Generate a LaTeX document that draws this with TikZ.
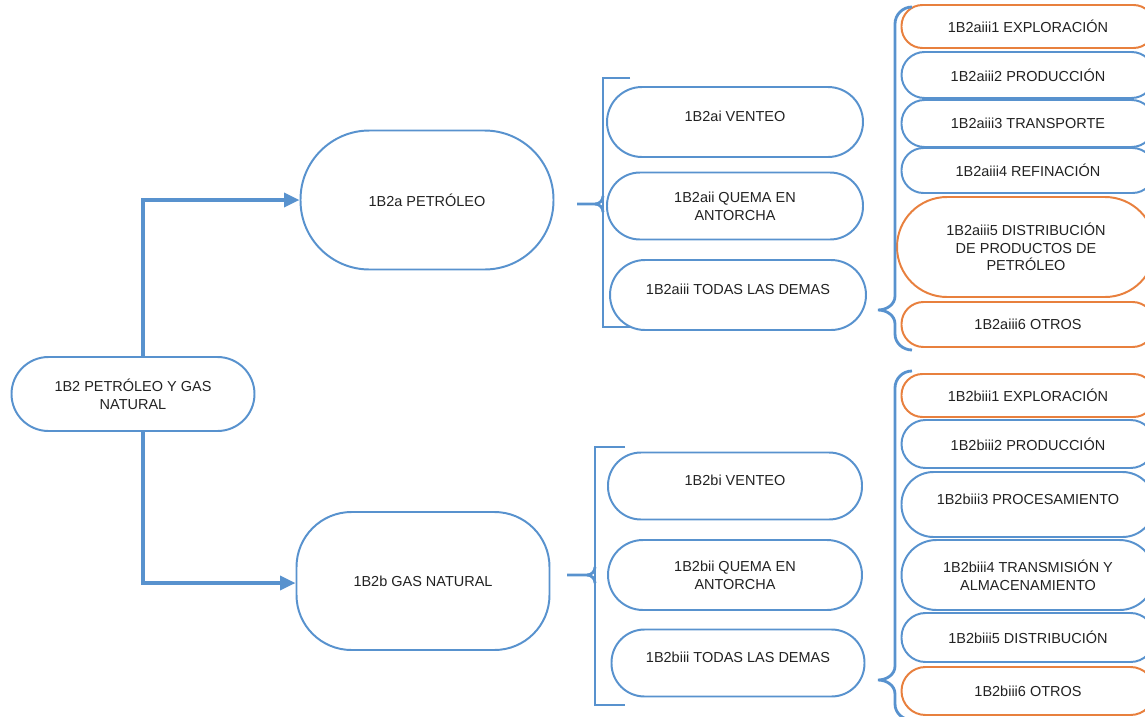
\documentclass[tikz,border=0pt]{standalone}
\usepackage{fontspec}
\setmainfont{Liberation Sans}
\usepackage{xcolor}
\usetikzlibrary{positioning}
\usetikzlibrary{arrows.meta}

\definecolor{azul}{RGB}{88,146,206}
\definecolor{naranja}{RGB}{232,128,62}
\definecolor{texto}{RGB}{34,34,34}
\newcommand{\unidad}{0.025cm}

\begin{document}
\begin{tikzpicture}[x=0.025cm, y=-0.025cm,
  caja/.style n args={3}{draw=azul, line width=1.4pt, fill=white, align=center,
    text=texto, font=\fontsize{10.3}{12.6}\selectfont, inner sep=0pt,
    minimum width=#1*\unidad, minimum height=#2*\unidad, rounded corners=#3*\unidad},
  naranja/.style={draw=naranja},
  arriba/.style={text depth=8pt},
  flecha/.style={draw=azul, line width=2.3pt, -{Triangle[length=11pt, width=10pt]}},
  llave/.style={draw=azul, line width=2pt}]

\clip (0,0) rectangle (1145,717);

% raiz y ramas
\node[caja={243}{74}{37}] (raiz) at (133,394) {1B2 PETRÓLEO Y GAS\\NATURAL};
\node[caja={253}{139}{69}] (petro) at (427,200) {1B2a PETRÓLEO};
\node[caja={253}{138}{55}] (gas) at (423,581) {1B2b GAS NATURAL};

\draw[flecha] ([xshift=10*\unidad]raiz.north) |- (petro.west);
\draw[flecha] ([xshift=10*\unidad]raiz.south) |- ([yshift=-2*\unidad]gas.west);

% petroleo, columna media
\node[caja={256}{70}{35}, arriba] (ai) at (735,122) {1B2ai VENTEO};
\node[caja={256}{67}{33}] (aii) at (735,206) {1B2aii QUEMA EN\\ANTORCHA};
\node[caja={256}{70}{35}, arriba] (aiii) at (738,295) {1B2aiii TODAS LAS DEMAS};

\draw[llave] (630,78) -- (603,78) -- (603,327) -- (630,327);
\draw[llave] (577,204) -- (595,204) to[out=0,in=-90] (603,196);
\draw[llave] (595,204) to[out=0,in=90] (603,212);

% gas, columna media
\node[caja={254}{67}{33}, arriba] (bi) at (735,486) {1B2bi VENTEO};
\node[caja={254}{70}{35}] (bii) at (735,575) {1B2bii QUEMA EN\\ANTORCHA};
\node[caja={253}{67}{33}, arriba] (biii) at (738,663) {1B2biii TODAS LAS DEMAS};

\draw[llave] (625,447) -- (595,447) -- (595,705) -- (625,705);
\draw[llave] (567,575) -- (587,575) to[out=0,in=-90] (595,567);
\draw[llave] (587,575) to[out=0,in=90] (595,583);

% petroleo, columna derecha
\node[caja={253}{43}{21}, naranja] (aiii1) at (1028,26.5) {1B2aiii1 EXPLORACIÓN};
\node[caja={253}{46}{23}] (aiii2) at (1028,75) {1B2aiii2 PRODUCCIÓN};
\node[caja={253}{47}{23}] (aiii3) at (1028,123.5) {1B2aiii3 TRANSPORTE};
\node[caja={253}{45}{22}] (aiii4) at (1028,170.5) {1B2aiii4 REFINACIÓN};
\node[caja={258}{100}{50}, naranja] (aiii5) at (1026,247) {1B2aiii5 DISTRIBUCIÓN\\DE PRODUCTOS DE\\PETRÓLEO};
\node[caja={253}{45}{22}, naranja] (aiii6) at (1028,324.5) {1B2aiii6 OTROS};

\draw[llave] (912,7) to[out=180,in=90] (895,24) -- (895,296)
  to[out=-90,in=0] (878,310) to[out=0,in=90] (895,324) -- (895,334)
  to[out=-90,in=180] (912,350);

% gas, columna derecha
\node[caja={253}{43}{21}, naranja] (biii1) at (1028,395.5) {1B2biii1 EXPLORACIÓN};
\node[caja={253}{48}{24}] (biii2) at (1028,444) {1B2biii2 PRODUCCIÓN};
\node[caja={253}{65}{32}, arriba] (biii3) at (1028,504.5) {1B2biii3 PROCESAMIENTO};
\node[caja={253}{70}{35}] (biii4) at (1028,575) {1B2biii4 TRANSMISIÓN Y\\ALMACENAMIENTO};
\node[caja={253}{49}{24}] (biii5) at (1028,637.5) {1B2biii5 DISTRIBUCIÓN};
\node[caja={253}{48}{24}, naranja] (biii6) at (1028,691) {1B2biii6 OTROS};

\draw[llave] (912,371) to[out=180,in=90] (895,388) -- (895,666)
  to[out=-90,in=0] (878,680) to[out=0,in=90] (895,694) -- (895,704)
  to[out=-90,in=180] (912,720);

\end{tikzpicture}
\end{document}
